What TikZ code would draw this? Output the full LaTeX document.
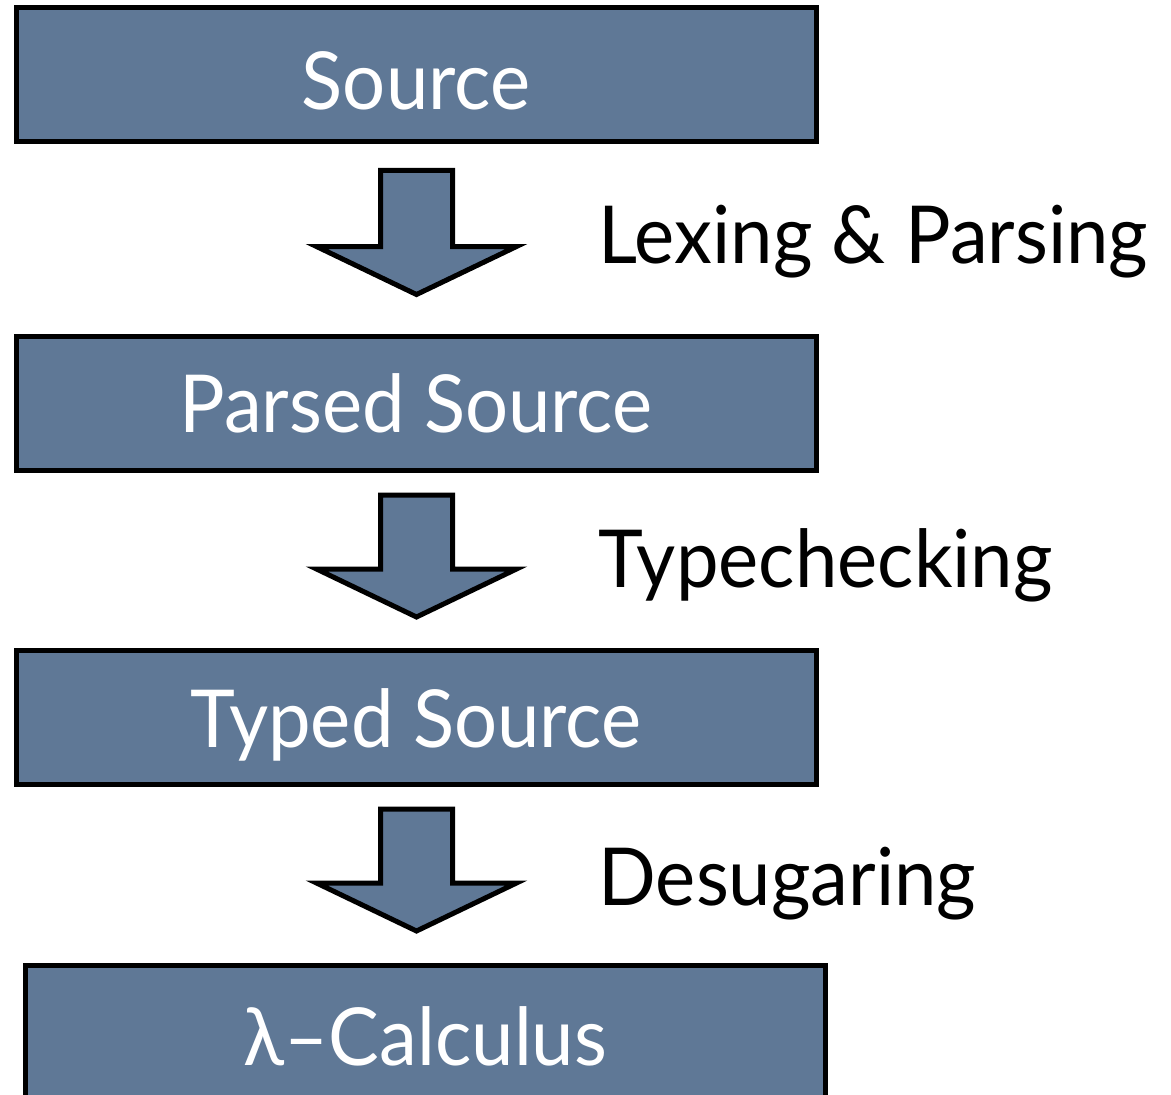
\documentclass[tikz,border=0pt]{standalone}
\usepackage{fontspec}
\setmainfont{Lato}[FakeStretch=0.95]
\usetikzlibrary{calc}

\tikzset{every picture/.style={line width=3.75pt}}
\tikzset{
	stagebox/.style={draw, fill={rgb, 255:red, 95; green, 120; blue, 150 }, minimum width=600pt, minimum height=100.5pt, inner sep=0pt, text={rgb, 255:red, 255; green, 255; blue, 255 }, font=\fontsize{60}{72}\selectfont, text height=43pt, text depth=0pt},
	flowarrow/.style={draw, fill={rgb, 255:red, 95; green, 120; blue, 150 }, line join=miter},
	steplabel/.style={anchor=base west, inner sep=0pt, font=\fontsize{60}{72}\selectfont}
}

\begin{document}
\begin{tikzpicture}[x=0.75pt,y=0.75pt,yscale=-1,xscale=1]
			\useasboundingbox (0,0) rectangle (1171,1095);
			%Shape: Rectangle [id:src]
			\node[stagebox, text height=52pt] (src) at (416,75) {Source};
			%Shape: Rectangle [id:parsed]
			\node[stagebox] (parsed) at (416,403.5) {Parsed Source};
			%Shape: Rectangle [id:typed]
			\node[stagebox, text height=45pt] (typed) at (416,717.5) {Typed Source};
			%Shape: Rectangle [id:lam]
			\node[stagebox, text height=50pt] (lam) at (425.5,1032.5) {λ–Calculus};

			%Shape: Down Arrow [id:src-parsed]
			\draw[flowarrow] ($(src.south)+(0.5,26)$) ++(-36,0) -- ++(0,76) -- ++(-64,0) -- ++(100,48) -- ++(100,-48) -- ++(-64,0) -- ++(0,-76) -- cycle ;
			%Shape: Down Arrow [id:parsed-typed]
			\draw[flowarrow] ($(parsed.south)+(0.5,22)$) ++(-36,0) -- ++(0,74) -- ++(-64,0) -- ++(100,48) -- ++(100,-48) -- ++(-64,0) -- ++(0,-74) -- cycle ;
			%Shape: Down Arrow [id:typed-lam]
			\draw[flowarrow] ($(typed.south)+(0.5,22)$) ++(-36,0) -- ++(0,74) -- ++(-64,0) -- ++(100,48) -- ++(100,-48) -- ++(-64,0) -- ++(0,-74) -- cycle ;

			% Text Node
			\node[steplabel] (lexparse) at (596,263) {Lexing \& Parsing};
			% Text Node
			\node[steplabel] (typecheck) at (596,587) {Typechecking};
			% Text Node
			\node[steplabel] (desugar) at (596,905) {Desugaring};

		\end{tikzpicture}
\end{document}
